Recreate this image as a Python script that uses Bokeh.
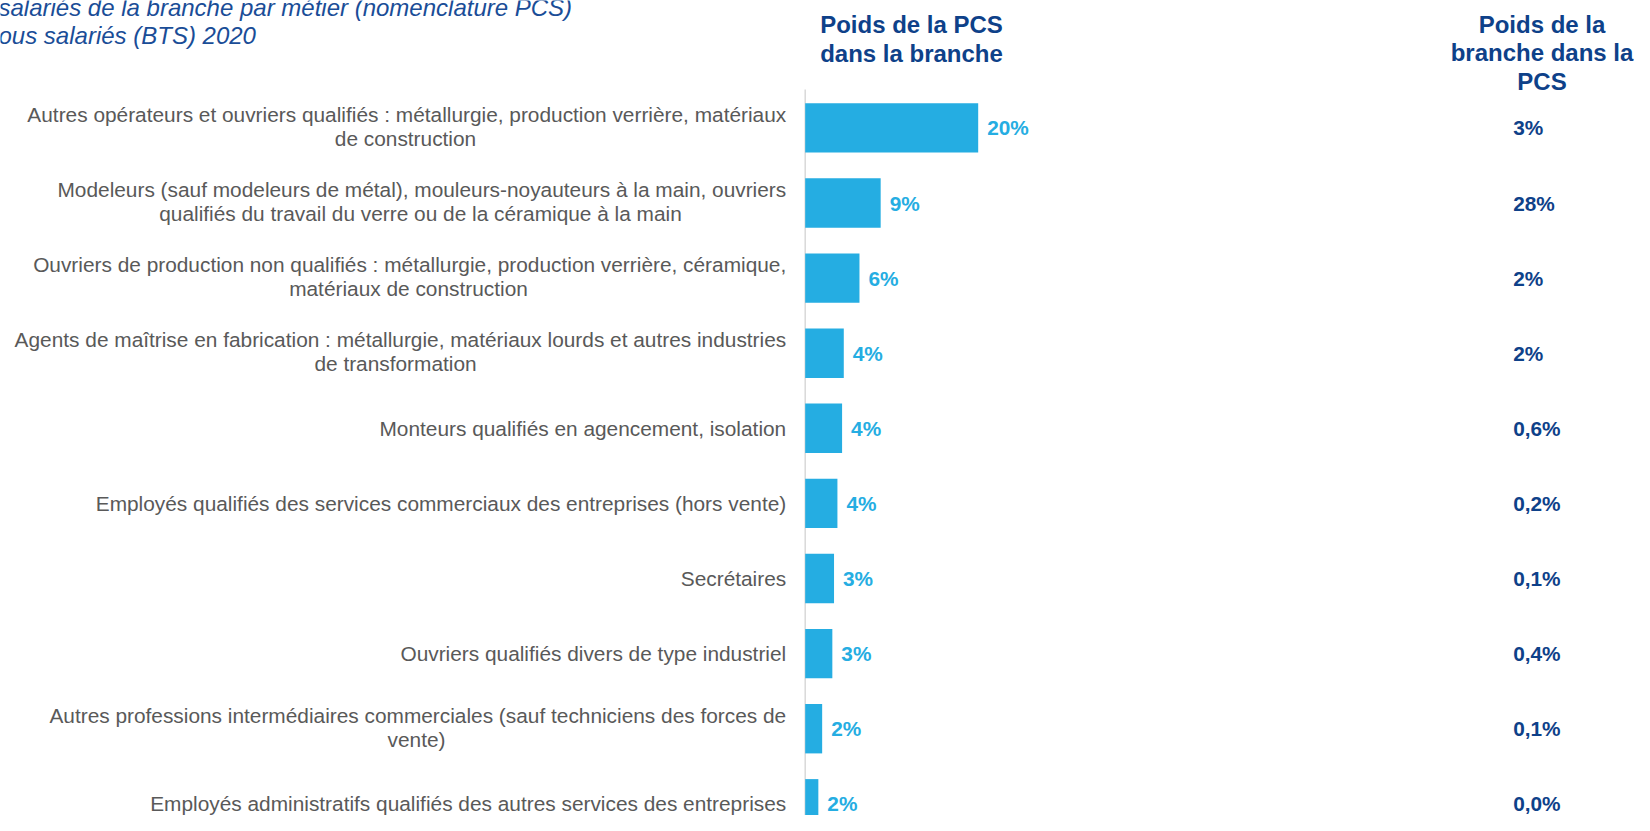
from bokeh.plotting import figure
from bokeh.models import Range1d, ColumnDataSource
from bokeh.core.properties import value
from bokeh.embed import file_html
from bokeh.resources import INLINE

# ---------------- data ----------------
categories = [
    "Autres opérateurs et ouvriers qualifiés : métallurgie, production verrière, matériaux\nde construction",
    "Modeleurs (sauf modeleurs de métal), mouleurs-noyauteurs à la main, ouvriers\nqualifiés du travail du verre ou de la céramique à la main",
    "Ouvriers de production non qualifiés : métallurgie, production verrière, céramique,\nmatériaux de construction",
    "Agents de maîtrise en fabrication : métallurgie, matériaux lourds et autres industries\nde transformation",
    "Monteurs qualifiés en agencement, isolation",
    "Employés qualifiés des services commerciaux des entreprises (hors vente)",
    "Secrétaires",
    "Ouvriers qualifiés divers de type industriel",
    "Autres professions intermédiaires commerciales (sauf techniciens des forces de\nvente)",
    "Employés administratifs qualifiés des autres services des entreprises",
]
poids_pcs_dans_branche = [20.4, 8.9, 6.4, 4.55, 4.35, 3.8, 3.4, 3.2, 2.0, 1.55]
poids_pcs_labels = ["20%", "9%", "6%", "4%", "4%", "4%", "3%", "3%", "2%", "2%"]
poids_branche_dans_pcs_labels = ["3%", "28%", "2%", "2%", "0,6%", "0,2%", "0,1%", "0,4%", "0,1%", "0,0%"]
title_lines = ["salariés de la branche par métier (nomenclature PCS)", "ous salariés (BTS) 2020"]
header_left = ["Poids de la PCS", "dans la branche"]
header_right = ["Poids de la", "branche dans la", "PCS"]

# ---------------- layout ----------------
W, H = 1634, 815
X0, PX = 804.7, 8.48      # screen x of 0 %, pixels per percent
Y0, ROW = 127.4, 75.1     # screen y of first row centre, pixels per row

def dx(px):
    return (px - X0) / PX

def dy(py):
    return (py - Y0) / ROW

FONT = value("Liberation Sans")
BAR = "#25ADE2"
DARK = "#0E4189"
TITLE = "#1A4D97"
GREY = "#595959"

p = figure(width=W, height=H, output_backend="svg", toolbar_location=None,
           x_range=Range1d(dx(0), dx(W)), y_range=Range1d(dy(H), dy(0)),
           x_axis_location=None, y_axis_location=None, min_border=0,
           tools="")
p.grid.visible = False
p.outline_line_color = None
p.background_fill_color = "white"
p.border_fill_color = "white"

rows = list(range(len(categories)))

# axis line
p.segment(x0=[0], y0=[dy(89)], x1=[0], y1=[dy(H)], line_color="#D9D9D9", line_width=1.5)

# bars
src = ColumnDataSource(dict(y=rows, v=poids_pcs_dans_branche, lab=poids_pcs_labels,
                            lab2=poids_branche_dans_pcs_labels))
p.hbar(y="y", left=0, right="v", height=49.4 / ROW, source=src,
       fill_color=BAR, line_color=None)

# bar value labels
p.text(x="v", y="y", text="lab", source=src, x_offset=9, text_align="left",
       text_baseline="middle", text_font=FONT, text_font_style="bold",
       text_font_size="20.8px", text_color=BAR)

# right column
p.text(x=dx(1512.7), y="y", text="lab2", source=src, text_align="left",
       text_baseline="middle", text_font=FONT, text_font_style="bold",
       text_font_size="20.8px", text_color=DARK)

# category labels
second_line_centres = {0: 405, 1: 420, 2: 408, 3: 395, 8: 416}
r1x, r1y, r1t = [], [], []
c2x, c2y, c2t = [], [], []
for i, cat in enumerate(categories):
    parts = cat.split("\n")
    if len(parts) == 1:
        r1x.append(0); r1y.append(i); r1t.append(parts[0])
    else:
        r1x.append(0); r1y.append(i - 13.5 / ROW); r1t.append(parts[0])
        c2x.append(dx(second_line_centres[i])); c2y.append(i + 10.5 / ROW); c2t.append(parts[1])

p.text(x=r1x, y=r1y, text=r1t, x_offset=-19, text_align="right", text_baseline="middle",
       text_font=FONT, text_font_size="20.85px", text_color=GREY)
p.text(x=c2x, y=c2y, text=c2t, text_align="center", text_baseline="middle",
       text_font=FONT, text_font_size="20.85px", text_color=GREY)

# headers
p.text(x=[dx(911)] * 2, y=[dy(23.5), dy(53)], text=header_left, text_align="center",
       text_baseline="middle", text_font=FONT, text_font_style="bold",
       text_font_size="24px", text_color=DARK)
p.text(x=[dx(1541.5)] * 3, y=[dy(23.5), dy(52), dy(80.5)], text=header_right,
       text_align="center", text_baseline="middle", text_font=FONT,
       text_font_style="bold", text_font_size="24px", text_color=DARK)

# title (cropped in the reference)
p.text(x=[dx(-2)] * 2, y=[dy(6.5), dy(34.5)], text=title_lines, text_align="left",
       text_baseline="middle", text_font=FONT, text_font_style="italic",
       text_font_size="24px", text_color=TITLE)

open("out.html", "w").write(file_html(p, INLINE))
